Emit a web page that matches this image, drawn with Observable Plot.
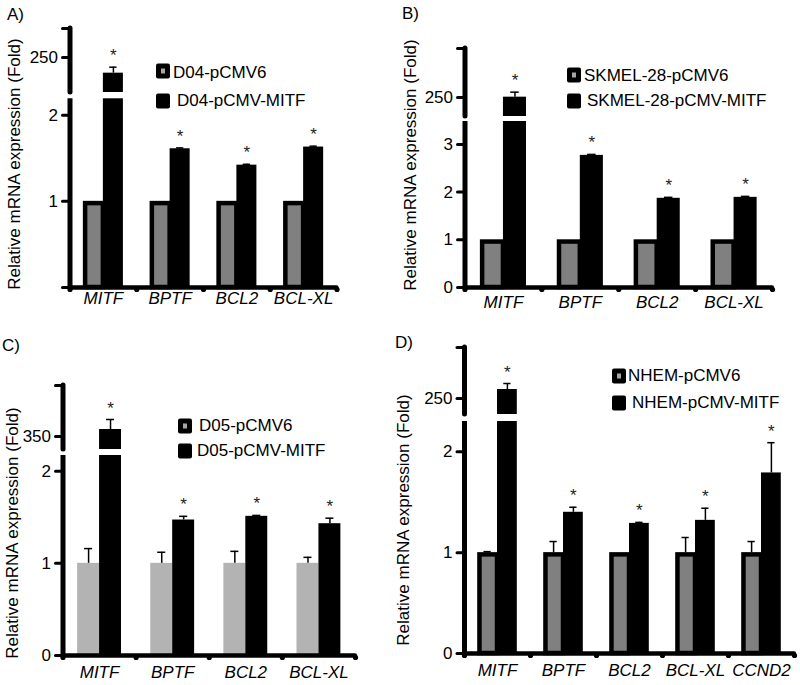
<!DOCTYPE html>
<html><head><meta charset="utf-8">
<script src="https://cdn.jsdelivr.net/npm/d3@7"></script>
<script src="https://cdn.jsdelivr.net/npm/@observablehq/plot@0.6"></script>
<style>
body{margin:0;background:#fff;}
#page{position:relative;width:800px;height:685px;overflow:hidden;font-family:"Liberation Sans",Arial,sans-serif;color:#000;}
#page svg{position:absolute;}
.lbl{position:absolute;font-size:17px;line-height:1;white-space:nowrap;transform:translateY(-50%);}
.ytitle{position:absolute;font-size:17px;line-height:1;white-space:nowrap;transform:translate(-50%,-50%) rotate(-90deg);}
.sw{position:absolute;width:14px;height:15px;background:#000;border-radius:2px;transform:translateY(-50%);}
.sw.c::after{content:"";position:absolute;left:5px;top:5px;width:4px;height:5px;background:#a6a6a6;}
</style></head><body><div id="page"></div>
<script>
// ---------- DATA ----------
const yTitle = "Relative mRNA expression (Fold)";

const tagA = "A)";
const catsA = ["MITF","BPTF","BCL2","BCL-XL"];
const ctrlA = [1,1,1,1];
const ctrlErrA = [0,0,0,0];
const treatA = [226.5,1.61,1.42,1.63];
const treatErrA = [9,0.01,0.01,0.01];
const sigA = ["*","*","*","*"];
const legendA = ["D04-pCMV6","D04-pCMV-MITF"];
const ticksLowA = [0,1,2];
const tickLabelsLowA = ["","1","2"];
const ticksHighA = [250,293.5];
const tickLabelsHighA = ["250",""];
const breakA = [2.19,197.5,293.5];

const tagB = "B)";
const catsB = ["MITF","BPTF","BCL2","BCL-XL"];
const ctrlB = [1,1,1,1];
const ctrlErrB = [0,0,0,0];
const treatB = [250.5,2.77,1.87,1.89];
const treatErrB = [7.5,0.02,0.02,0.02];
const sigB = ["*","*","*","*"];
const legendB = ["SKMEL-28-pCMV6","SKMEL-28-pCMV-MITF"];
const ticksLowB = [0,1,2,3];
const tickLabelsLowB = ["0","1","2","3"];
const ticksHighB = [250,323.5];
const tickLabelsHighB = ["250",""];
const breakB = [3.48,221.5,323.5];

const tagC = "C)";
const catsC = ["MITF","BPTF","BCL2","BCL-XL"];
const ctrlC = [1,1,1,1];
const ctrlErrC = [0.16,0.12,0.13,0.065];
const treatC = [360.5,1.47,1.51,1.43];
const treatErrC = [15,0.04,0.01,0.06];
const sigC = ["*","*","*","*"];
const legendC = ["D05-pCMV6","D05-pCMV-MITF"];
const ticksLowC = [0,1,2];
const tickLabelsLowC = ["0","1","2"];
const ticksHighC = [350,426.5];
const tickLabelsHighC = ["350",""];
const breakC = [2.17,330.5,426.5];

const tagD = "D)";
const catsD = ["MITF","BPTF","BCL2","BCL-XL","CCND2"];
const ctrlD = [1,1,1,1,1];
const ctrlErrD = [0.01,0.11,0,0.15,0.11];
const treatD = [263.5,1.40,1.29,1.32,1.79];
const treatErrD = [9,0.05,0.01,0.12,0.30];
const sigD = ["*","*","*","*","*"];
const legendD = ["NHEM-pCMV6","NHEM-pCMV-MITF"];
const ticksLowD = [0,1,2];
const tickLabelsLowD = ["0","1","2"];
const ticksHighD = [250,326.5];
const tickLabelsHighD = ["250",""];
const breakD = [2.30,226,326.5];

// ---------- LAYOUT ----------
const layoutA = {left:0,top:0,w:400,h:320,axisX:69.5,xEnd:336.5,lowTop:98.3,base:287,upTop:28,upBot:92,gray:"#808080",border:true,labelDy:11,title:[13.5,164],tag:[7,14],sw:156,legRows:[[71,173,72],[100.5,177,100]]};
const layoutB = {left:400,top:0,w:400,h:320,axisX:464.5,xEnd:772,lowTop:121,base:287,upTop:48,upBot:116,gray:"#808080",border:true,labelDy:15,title:[410,165],tag:[402,12.5],sw:567,legRows:[[75,584,75],[100.5,587,100]]};
const layoutC = {left:0,top:320,w:400,h:365,axisX:62.5,xEnd:355,lowTop:455,base:655,upTop:385,upBot:449,gray:"#b3b3b3",border:false,labelDy:17,title:[11.5,533],tag:[2,345],sw:178,legRows:[[425.5,199,425],[450.5,197,450]]};
const layoutD = {left:400,top:320,w:400,h:365,axisX:464,xEnd:794,lowTop:421,base:653,upTop:347,upBot:414,gray:"#808080",border:true,labelDy:17,title:[403,520],tag:[395,341.5],sw:612,legRows:[[375.5,628,375],[402.5,632,402]]};

const page = document.getElementById("page");
const FONT = '"Liberation Sans", Arial, sans-serif';

function addDiv(cls, text, x, y){
  const d = document.createElement("div");
  d.className = cls; if (text != null) d.textContent = text;
  d.style.left = x + "px"; d.style.top = y + "px";
  page.appendChild(d); return d;
}

function panel(L, D){
  const n = D.cats.length;
  const rows = D.cats.map((c,i)=>({c,i,ctrl:D.ctrl[i],ctrlErr:D.ctrlErr[i],treat:D.treat[i],treatErr:D.treatErr[i],sig:D.sig[i]}));
  const [lowMax, upLo, upHi] = D.brk;
  const hw = 0.3, cap = 0.055;
  const gc = d => d.i + 0.5 - hw/2, bc = d => d.i + 0.5 + hw/2;
  const common = {
    width: L.w, height: L.h,
    marginLeft: L.axisX - L.left, marginRight: L.left + L.w - L.xEnd,
    style: {background:"transparent", overflow:"visible", fontFamily: FONT, fontSize:"17px", color:"#000"}
  };
  const lowRows = rows.filter(d => d.treat <= lowMax);
  const upRows = rows.filter(d => d.treat > lowMax);
  const ctrlErrRows = rows.filter(d => d.ctrlErr > 0);
  const errMarks = (data) => [
    Plot.ruleX(data, {x: bc, y1: d=>d.treat, y2: d=>d.treat + d.treatErr, stroke:"#000", strokeWidth:1.5}),
    Plot.ruleY(data, {y: d=>d.treat + d.treatErr, x1: d=>bc(d)-cap, x2: d=>bc(d)+cap, stroke:"#000", strokeWidth:1.5}),
    Plot.text(data, {x: bc, y: d=>d.treat + d.treatErr, text: d=>d.sig, lineAnchor:"bottom", dy:-6, fontSize:17, fill:"#222"})
  ];
  const lower = Plot.plot({
    ...common,
    marginTop: L.lowTop - L.top, marginBottom: L.top + L.h - L.base,
    x: {type:"linear", domain:[0,n], axis:null},
    y: {domain:[0, lowMax], axis:null},
    marks: [
      Plot.rect(rows, {x1: d=>d.i+0.5-hw, x2: d=>d.i+0.5, y1: 0, y2: d=>d.ctrl, fill: L.gray,
        stroke: L.border ? "#000" : "none", strokeWidth: 4.5,
        insetLeft: L.border ? 2.25 : 0, insetTop: L.border ? 2.25 : 0}),
      Plot.rect(rows, {x1: d=>d.i+0.5, x2: d=>d.i+0.5+hw, y1: 0, y2: d=>Math.min(d.treat, lowMax), fill:"#000"}),
      Plot.ruleX(ctrlErrRows, {x: gc, y1: d=>d.ctrl, y2: d=>d.ctrl + d.ctrlErr, stroke:"#000", strokeWidth:1.5}),
      Plot.ruleY(ctrlErrRows, {y: d=>d.ctrl + d.ctrlErr, x1: d=>gc(d)-cap, x2: d=>gc(d)+cap, stroke:"#000", strokeWidth:1.5}),
      ...errMarks(lowRows),
      Plot.ruleX([0], {y1: 0, y2: lowMax, stroke:"#000", strokeWidth:5}),
      Plot.ruleY([0], {x1: 0, x2: n, stroke:"#000", strokeWidth:4.3, strokeLinecap:"round"}),
      Plot.dot(d3.range(n+1), {x: d=>d, y: 0, dy: 2, r: 2.6, fill:"#000", stroke:"none"}),
      Plot.axisY({ticks: D.ticksLow, tickFormat: v => D.tickLabelsLow[D.ticksLow.indexOf(v)], tickSize:7, tickPadding:5,
        strokeWidth:3, strokeLinecap:"round", fontSize:17, label:null, fill:"#000"}),
      Plot.text(rows, {x: d=>d.i+0.5, y: 0, text: d=>d.c, fontStyle:"italic", fontSize:17, dy: L.labelDy, lineAnchor:"middle", fill:"#000"})
    ]
  });
  const upper = Plot.plot({
    ...common,
    marginTop: L.upTop - L.top, marginBottom: L.top + L.h - L.upBot,
    x: {type:"linear", domain:[0,n], axis:null},
    y: {domain:[upLo, upHi], axis:null},
    marks: [
      Plot.rect(upRows, {x1: d=>d.i+0.5, x2: d=>d.i+0.5+hw, y1: upLo, y2: d=>d.treat, fill:"#000"}),
      ...errMarks(upRows),
      Plot.ruleX([0], {y1: upLo, y2: upHi, stroke:"#000", strokeWidth:5, strokeLinecap:"round"}),
      Plot.axisY({ticks: D.ticksHigh, tickFormat: v => D.tickLabelsHigh[D.ticksHigh.indexOf(v)], tickSize:7, tickPadding:5,
        strokeWidth:3, strokeLinecap:"round", fontSize:17, label:null, fill:"#000"})
    ]
  });
  for (const s of [lower, upper]) { s.style.left = L.left + "px"; s.style.top = L.top + "px"; page.appendChild(s); }

  // panel tag, y title, legend
  addDiv("lbl", D.tag, L.tag[0], L.tag[1]);
  addDiv("ytitle", yTitle, L.title[0], L.title[1]);
  addDiv("sw c", null, L.sw, L.legRows[0][0]);
  addDiv("sw", null, L.sw, L.legRows[1][0]);
  addDiv("lbl", D.legend[0], L.legRows[0][1], L.legRows[0][2]);
  addDiv("lbl", D.legend[1], L.legRows[1][1], L.legRows[1][2]);
}

panel(layoutA, {tag:tagA, cats:catsA, ctrl:ctrlA, ctrlErr:ctrlErrA, treat:treatA, treatErr:treatErrA, sig:sigA, legend:legendA,
  ticksLow:ticksLowA, tickLabelsLow:tickLabelsLowA, ticksHigh:ticksHighA, tickLabelsHigh:tickLabelsHighA, brk:breakA});
panel(layoutB, {tag:tagB, cats:catsB, ctrl:ctrlB, ctrlErr:ctrlErrB, treat:treatB, treatErr:treatErrB, sig:sigB, legend:legendB,
  ticksLow:ticksLowB, tickLabelsLow:tickLabelsLowB, ticksHigh:ticksHighB, tickLabelsHigh:tickLabelsHighB, brk:breakB});
panel(layoutC, {tag:tagC, cats:catsC, ctrl:ctrlC, ctrlErr:ctrlErrC, treat:treatC, treatErr:treatErrC, sig:sigC, legend:legendC,
  ticksLow:ticksLowC, tickLabelsLow:tickLabelsLowC, ticksHigh:ticksHighC, tickLabelsHigh:tickLabelsHighC, brk:breakC});
panel(layoutD, {tag:tagD, cats:catsD, ctrl:ctrlD, ctrlErr:ctrlErrD, treat:treatD, treatErr:treatErrD, sig:sigD, legend:legendD,
  ticksLow:ticksLowD, tickLabelsLow:tickLabelsLowD, ticksHigh:ticksHighD, tickLabelsHigh:tickLabelsHighD, brk:breakD});
</script></body></html>
